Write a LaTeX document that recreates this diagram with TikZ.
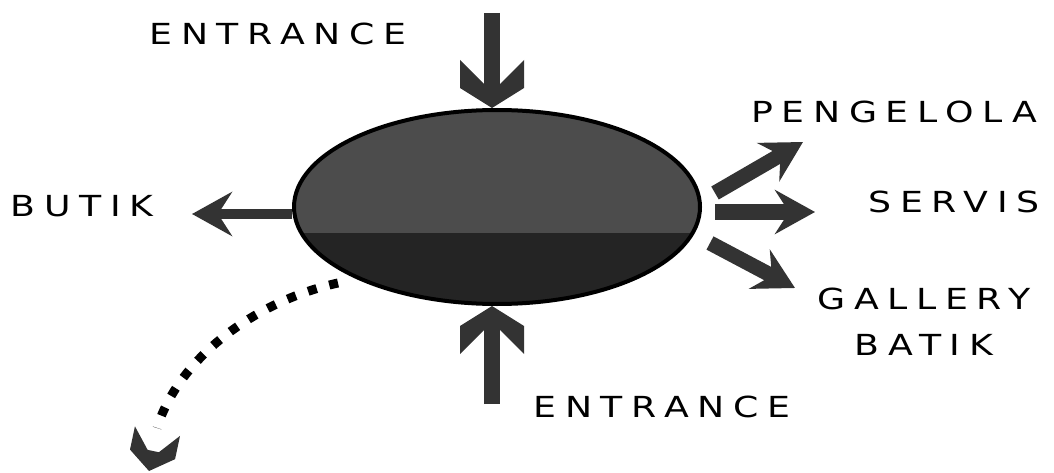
\documentclass[tikz,border=0pt]{standalone}
\usepackage{fontspec}
\usetikzlibrary{arrows.meta,shapes.geometric,calc}
\newfontfamily\signfont[FakeStretch=1.25,LetterSpace=30]{DejaVu Sans}
\definecolor{inkgray}{gray}{0.2}
\definecolor{hubtop}{gray}{0.3}
\definecolor{hubbot}{gray}{0.14}
\tikzstyle{hub}=[ellipse,draw=black,line width=4pt,fill=hubtop,minimum width=406pt,minimum height=194pt,inner sep=0pt,
  path picture={\fill[hubbot] ([yshift=-26pt]path picture bounding box.west) rectangle (path picture bounding box.south east);}]
\tikzstyle{sign}=[font=\signfont\fontsize{29pt}{46pt}\selectfont,inner sep=0pt,align=center]
\tikzstyle{outarrow}=[draw=inkgray,-{Stealth[length=40pt,width=44pt,inset=14pt]}]
\tikzstyle{inshaft}=[draw=inkgray,line width=16pt]
\tikzstyle{dotpath}=[draw=black,line width=9pt,dash pattern=on 9pt off 13pt]
\tikzset{chevron/.pic={\fill[inkgray] (0,0) -- (-20,32) -- (-48,32) -- (-24,8) -- (-24,-8) -- (-48,-32) -- (-20,-32) -- cycle;}}

\begin{document}
\begin{tikzpicture}[x=1pt,y=-1pt]
\useasboundingbox (0,0) rectangle (1054,473);
\node[hub] (hub) at (497,207) {};
% labels
\node[sign] (entrytop) at (278,34) {ENTRANCE};
\node[sign] (entrybot) at (662,407) {ENTRANCE};
\node[sign] (butik) at (82,206) {BUTIK};
\node[sign] (peng) at (894,112) {PENGELOLA};
\node[sign] (servis) at (954,202) {SERVIS};
\node[sign] (gallery) at (924,322) {GALLERY\\BATIK};
% entrances
\coordinate (topin) at (492,13);
\coordinate (botin) at (492,404);
\draw[inshaft] (topin) -- ($(topin |- hub.north)+(0,-22)$);
\pic[rotate=-90] at (topin |- hub.north) {chevron};
\draw[inshaft] (botin) -- ($(botin |- hub.south)+(0,24)$);
\pic[rotate=90] at (botin |- hub.south) {chevron};
% exits
\coordinate (butiktip) at (192,214);
\coordinate (pengtail) at (715,193);
\coordinate (pengtip) at (803,142);
\coordinate (servistail) at (715,212);
\coordinate (servistip) at (815,212);
\coordinate (gallerytail) at (710,243);
\coordinate (gallerytip) at (795,288);
\draw[outarrow,line width=10pt] (hub.west |- butiktip) -- (butiktip);
\draw[outarrow,line width=15pt] (pengtail) -- (pengtip);
\draw[outarrow,line width=16pt] (servistail) -- (servistip);
\draw[outarrow,line width=15pt] (gallerytail) -- (gallerytip);
% dotted way out
\coordinate (dotstart) at (338,283);
\coordinate (dotend) at (157,428);
\draw[dotpath] (dotstart) .. controls (252,302) and (178,360) .. (dotend);
\pic[rotate=-102,xscale=0.85,yscale=0.72] at (149,471) {chevron};
\end{tikzpicture}
\end{document}
